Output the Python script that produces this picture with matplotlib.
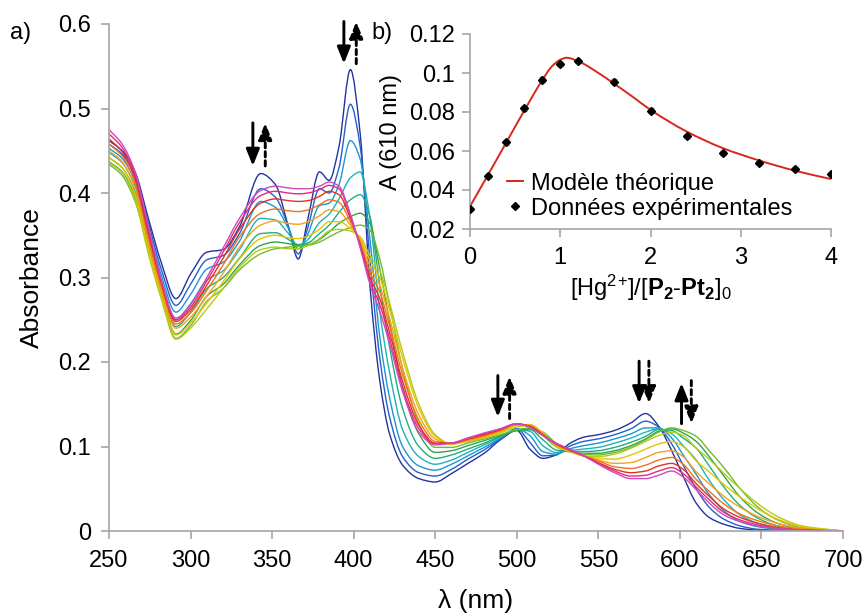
import numpy as np
import matplotlib
matplotlib.use("Agg")
import matplotlib.pyplot as plt
from matplotlib.path import Path
from matplotlib.patches import PathPatch
from matplotlib.lines import Line2D

plt.rcParams['font.family'] = ['Liberation Sans', 'DejaVu Sans']
plt.rcParams['mathtext.fontset'] = 'custom'
plt.rcParams['mathtext.rm'] = 'Liberation Sans'
plt.rcParams['mathtext.it'] = 'Liberation Sans:italic'
plt.rcParams['mathtext.bf'] = 'Liberation Sans:bold'

# ---------------- data: UV-vis titration spectra ----------------
wavelength = [250, 258, 266, 274, 282, 291, 300, 310, 320, 330, 343, 352, 360, 366, 372,
              379, 385, 391, 398, 404, 410, 416, 422, 430, 440, 450, 460, 470, 480, 490,
              500, 508, 516, 524, 532, 541, 550, 560, 570, 579, 587, 595, 602, 610, 618,
              627, 637, 648, 660, 675, 700]

spec_eq_0_0 = [.462, .450, .425, .371, .318, .275, .304, .330, .333, .360, .423, .410, .360, .322, .370,
               .425, .415, .455, .546, .470, .290, .178, .115, .078, .062, .058, .068, .080, .092, .108,
               .119, .097, .086, .090, .103, .111, .114, .119, .128, .139, .124, .095, .065, .033, .016,
               .008, .003, .001, 0, 0, 0]
spec_eq_0_2 = [.458, .446, .420, .366, .310, .267, .292, .321, .326, .352, .405, .395, .360, .328, .360,
               .405, .400, .430, .505, .455, .320, .205, .135, .088, .069, .065, .073, .085, .096, .109,
               .121, .105, .089, .090, .100, .106, .109, .114, .121, .130, .123, .103, .078, .050, .028,
               .014, .006, .002, .001, 0, 0]
spec_eq_0_4 = [.453, .441, .414, .360, .303, .259, .280, .310, .318, .343, .390, .383, .358, .334, .352,
               .385, .388, .410, .462, .440, .345, .230, .158, .100, .077, .072, .079, .089, .099, .110,
               .121, .113, .094, .091, .097, .101, .104, .109, .115, .122, .122, .110, .090, .067, .043,
               .024, .011, .005, .002, .001, 0]
spec_eq_0_6 = [.448, .436, .408, .353, .296, .250, .269, .297, .308, .333, .370, .368, .352, .338, .345,
               .365, .375, .393, .418, .425, .370, .260, .188, .120, .088, .079, .084, .093, .102, .111,
               .120, .118, .101, .093, .095, .097, .099, .104, .110, .117, .121, .115, .101, .084, .060,
               .037, .019, .009, .004, .001, 0]
spec_eq_0_8 = [.442, .430, .401, .346, .289, .242, .259, .287, .300, .323, .352, .353, .345, .339, .341,
               .352, .362, .377, .392, .398, .372, .290, .218, .145, .100, .086, .090, .097, .104, .112,
               .119, .120, .108, .096, .094, .094, .095, .099, .105, .112, .120, .119, .110, .098, .077,
               .052, .030, .015, .006, .002, 0]
spec_eq_1_0 = [.437, .425, .395, .340, .283, .233, .249, .278, .292, .315, .338, .342, .340, .338, .339,
               .345, .354, .364, .372, .376, .364, .310, .248, .170, .115, .093, .095, .101, .107, .113,
               .119, .121, .113, .100, .094, .092, .092, .095, .101, .109, .118, .121, .116, .106, .088,
               .065, .040, .021, .009, .003, 0]
spec_eq_1_2 = [.434, .421, .390, .335, .278, .228, .243, .272, .287, .309, .328, .334, .336, .337, .338,
               .342, .348, .354, .359, .362, .356, .322, .268, .192, .127, .099, .099, .104, .109, .114,
               .120, .122, .117, .104, .095, .091, .090, .093, .099, .108, .117, .122, .119, .112, .095,
               .075, .050, .028, .013, .004, 0]
spec_eq_1_6 = [.436, .424, .392, .329, .275, .227, .240, .263, .287, .312, .333, .336, .334, .334, .338,
               .346, .355, .357, .355, .348, .326, .308, .270, .212, .150, .114, .103, .106, .110, .116,
               .123, .125, .116, .100, .094, .089, .088, .091, .098, .106, .113, .117, .113, .098, .085,
               .068, .050, .032, .017, .006, 0]
spec_eq_2_0 = [.442, .430, .398, .335, .280, .232, .246, .270, .295, .322, .346, .350, .347, .346, .349,
               .357, .366, .366, .358, .346, .320, .300, .262, .205, .145, .112, .103, .107, .111, .117,
               .125, .126, .116, .101, .095, .089, .086, .085, .090, .097, .103, .106, .100, .083, .070,
               .055, .040, .026, .014, .005, 0]
spec_eq_2_4 = [.450, .437, .405, .342, .285, .240, .253, .278, .305, .336, .362, .367, .364, .363, .366,
               .373, .380, .378, .362, .344, .313, .291, .252, .193, .137, .109, .103, .107, .112, .118,
               .126, .125, .115, .102, .095, .089, .084, .080, .081, .087, .093, .095, .088, .070, .056,
               .041, .028, .017, .009, .003, 0]
spec_eq_2_8 = [.458, .444, .412, .349, .290, .245, .258, .285, .315, .348, .376, .381, .379, .378, .380,
               .386, .392, .389, .366, .341, .306, .283, .243, .185, .131, .106, .104, .108, .113, .119,
               .126, .124, .114, .103, .096, .089, .083, .076, .074, .078, .084, .087, .079, .061, .047,
               .032, .020, .012, .006, .002, 0]
spec_eq_3_2 = [.464, .449, .417, .354, .294, .248, .262, .291, .323, .357, .388, .393, .391, .390, .391,
               .396, .402, .398, .370, .339, .300, .275, .235, .177, .125, .104, .104, .109, .114, .120,
               .127, .124, .114, .103, .096, .089, .081, .073, .069, .071, .077, .080, .073, .056, .041,
               .026, .016, .009, .004, .001, 0]
spec_eq_3_6 = [.470, .454, .421, .358, .296, .250, .265, .296, .330, .365, .397, .402, .400, .399, .400,
               .404, .409, .405, .373, .337, .295, .268, .228, .170, .121, .103, .104, .110, .115, .121,
               .127, .123, .113, .104, .097, .089, .080, .071, .065, .066, .071, .075, .068, .052, .037,
               .022, .013, .007, .003, .001, 0]
spec_eq_4_0 = [.475, .458, .425, .362, .298, .252, .268, .300, .335, .370, .403, .408, .406, .405, .405,
               .408, .413, .408, .375, .335, .292, .260, .222, .165, .117, .102, .104, .110, .116, .121,
               .127, .123, .113, .104, .097, .089, .079, .069, .062, .062, .066, .071, .064, .049, .033,
               .019, .011, .006, .003, .001, 0]

spectra = [spec_eq_0_0, spec_eq_0_2, spec_eq_0_4, spec_eq_0_6, spec_eq_0_8, spec_eq_1_0,
           spec_eq_1_2, spec_eq_1_6, spec_eq_2_0, spec_eq_2_4, spec_eq_2_8, spec_eq_3_2,
           spec_eq_3_6, spec_eq_4_0]
spectra_colors = ['#22339f', '#2460c6', '#1c95d5', '#1fb2b8', '#22ae7c', '#2ba64a', '#72ba2f',
                  '#b2cb1c', '#e6c400', '#f4a21c', '#f07220', '#e3321f', '#e42a78', '#cf48c0']

# ---------------- data: inset ----------------
ratio = [0, 0.2, 0.4, 0.6, 0.8, 1.0, 1.2, 1.6, 2.0, 2.4, 2.8, 3.2, 3.6, 4.0]
a610 = [0.0304, 0.0473, 0.0644, 0.0818, 0.0966, 0.1045, 0.1062, 0.0956, 0.0807, 0.0678,
        0.0589, 0.0538, 0.0509, 0.0483]
a610_err = [0.0011] * 14
model_x = [0, 0.2, 0.4, 0.6, 0.8, 0.9, 1.0, 1.07, 1.2, 1.4, 1.6, 1.8, 2.0, 2.4, 2.8, 3.2, 3.6, 4.0]
model_y = [0.0316, 0.0478, 0.0642, 0.0806, 0.0963, 0.1030, 0.1068, 0.1078, 0.1060, 0.1007,
           0.0944, 0.0879, 0.0811, 0.0700, 0.0615, 0.0552, 0.0499, 0.0456]


def smooth_path(xs, ys):
    """Excel-like smoothed line: cubic Bezier segments through the data points (PCHIP tangents)."""
    x = np.asarray(xs, float)
    y = np.asarray(ys, float)
    n = len(x)
    h = np.diff(x)
    d = np.diff(y) / h
    m = np.zeros(n)
    for i in range(1, n - 1):
        if d[i - 1] * d[i] > 0:
            w1 = 2 * h[i] + h[i - 1]
            w2 = h[i] + 2 * h[i - 1]
            m[i] = (w1 + w2) / (w1 / d[i - 1] + w2 / d[i])
    m[0] = d[0]
    m[-1] = d[-1]
    verts = [(x[0], y[0])]
    codes = [Path.MOVETO]
    for i in range(n - 1):
        verts += [(x[i] + h[i] / 3, y[i] + m[i] * h[i] / 3),
                  (x[i + 1] - h[i] / 3, y[i + 1] - m[i + 1] * h[i] / 3),
                  (x[i + 1], y[i + 1])]
        codes += [Path.CURVE4] * 3
    return Path(verts, codes)


GRAY = '#a6a6a6'
TICK_FS = 17
LABEL_FS = 19
fig = plt.figure(figsize=(8.66, 6.16), dpi=100)

# ---------------- main panel ----------------
ax = fig.add_axes([109 / 866, 1 - 531 / 616, 734 / 866, 507 / 616])
for spec, col in zip(spectra, spectra_colors):
    ax.add_patch(PathPatch(smooth_path(wavelength, spec), facecolor='none',
                           edgecolor=col, lw=1.0, transform=ax.transData))
ax.set_xlim(250, 700)
ax.set_ylim(0, 0.6)
ax.set_xticks(np.arange(250, 701, 50))
ax.set_yticks(np.arange(0, 0.61, 0.1))
ax.set_yticklabels(['0', '0.1', '0.2', '0.3', '0.4', '0.5', '0.6'])
for s in ['top', 'right']:
    ax.spines[s].set_visible(False)
for s in ['left', 'bottom']:
    ax.spines[s].set_color(GRAY)
    ax.spines[s].set_linewidth(1.2)
ax.tick_params(axis='x', direction='out', length=6, width=1.2, color=GRAY,
               labelsize=TICK_FS, labelcolor='black', pad=8)
ax.tick_params(axis='y', direction='out', length=6, width=1.2, color=GRAY,
               labelsize=TICK_FS, labelcolor='black', pad=7)
ax.set_xlabel('λ (nm)', fontsize=LABEL_FS, labelpad=12)
ax.set_ylabel('Absorbance', fontsize=LABEL_FS, labelpad=10)
fig.text(10 / 866, 1 - 33 / 616, 'a)', fontsize=TICK_FS, va='center', ha='left')

# arrows (solid: first phase, dashed: second phase)
arrows = [
    (338.2, 0.483, 0.432, '-'), (345.8, 0.432, 0.483, '--'),
    (394.0, 0.603, 0.553, '-'), (401.6, 0.553, 0.603, '--'),
    (488.4, 0.184, 0.135, '-'), (495.6, 0.133, 0.183, '--'),
    (575.0, 0.201, 0.151, '-'), (581.0, 0.201, 0.151, '--'),
    (601.0, 0.127, 0.175, '-'), (607.0, 0.178, 0.127, '--'),
]
for xa, y0, y1, ls in arrows:
    ax.annotate('', xy=(xa, y1), xytext=(xa, y0), annotation_clip=False,
                arrowprops=dict(arrowstyle='-|>,head_length=1.0,head_width=0.4',
                                lw=2.1, color='black',
                                linestyle='-' if ls == '-' else (0, (1.8, 1.3)),
                                shrinkA=0, shrinkB=0, mutation_scale=10))

# ---------------- inset ----------------
axi = fig.add_axes([470 / 866, 1 - 229 / 616, 361 / 866, 195 / 616])
axi.add_patch(PathPatch(smooth_path(model_x, model_y), facecolor='none',
                        edgecolor='#d9261c', lw=1.4, transform=axi.transData))
axi.errorbar(ratio, a610, yerr=a610_err, fmt='D', color='black', ms=4.5,
             ecolor='#808080', elinewidth=1, capsize=2.5, zorder=3)
axi.set_xlim(0, 4)
axi.set_ylim(0.02, 0.12)
axi.set_xticks([0, 1, 2, 3, 4])
axi.set_yticks([0.02, 0.04, 0.06, 0.08, 0.1, 0.12])
axi.set_yticklabels(['0.02', '0.04', '0.06', '0.08', '0.1', '0.12'])
axi.patch.set_alpha(0)
for s in ['top', 'right']:
    axi.spines[s].set_visible(False)
for s in ['left', 'bottom']:
    axi.spines[s].set_color(GRAY)
    axi.spines[s].set_linewidth(1.2)
axi.tick_params(axis='x', direction='out', length=6, width=1.2, color=GRAY,
                labelsize=TICK_FS, labelcolor='black', pad=7)
axi.tick_params(axis='y', direction='out', length=6, width=1.2, color=GRAY,
                labelsize=TICK_FS, labelcolor='black', pad=5)
axi.set_xlabel(r'[Hg$^{2}$$^{+}$]/[$\mathbf{P}_\mathbf{2}$-$\mathbf{Pt}_\mathbf{2}$]$_0$',
               fontsize=TICK_FS, labelpad=3)
axi.set_ylabel('A (610 nm)', fontsize=TICK_FS, labelpad=5)
fig.text(371 / 866, 1 - 33 / 616, 'b)', fontsize=TICK_FS, va='center', ha='left')

handles = [Line2D([], [], color='#d9261c', lw=1.4),
           Line2D([], [], marker='D', color='black', ls='none', ms=4.5)]
axi.legend(handles, ['Modèle théorique', 'Données expérimentales'], loc='lower left',
           bbox_to_anchor=(0.075, 0.0), frameon=False, fontsize=TICK_FS, handlelength=0.7,
           handletextpad=0.35, labelspacing=0.12, borderaxespad=0, borderpad=0.4)

fig.savefig('out.png', dpi=100)
